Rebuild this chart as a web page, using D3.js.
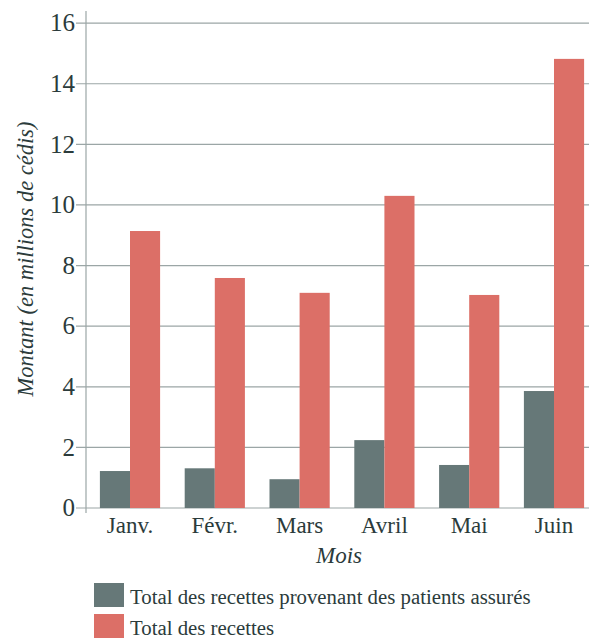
<!DOCTYPE html>
<html><head><meta charset="utf-8">
<script src="https://cdn.jsdelivr.net/npm/d3@7"></script>
<style>body{margin:0;background:#fff}svg{display:block}</style>
</head><body>
<svg id="c" width="589" height="638"></svg>
<script>
const months = ["Janv.", "Févr.", "Mars", "Avril", "Mai", "Juin"];
const seriesNames = ["Total des recettes provenant des patients assurés", "Total des recettes"];
const insured = [1.22, 1.31, 0.95, 2.24, 1.42, 3.86];
const total = [9.14, 7.59, 7.10, 10.30, 7.03, 14.82];
const yTicks = [0, 2, 4, 6, 8, 10, 12, 14, 16];
const colors = ["#667878", "#dc6f67"];

const font = "'Liberation Serif', 'DejaVu Serif', serif";
const textColor = "#2b3b3b";
const svg = d3.select("#c");

const y = d3.scaleLinear().domain([0, 16.4]).range([508, 11]);
const x = d3.scaleBand().domain(months).range([87.6, 596.4]).paddingInner(0.29).paddingOuter(0.145);
const xs = d3.scaleBand().domain([0, 1]).range([0, x.bandwidth()]);

// gridlines
svg.append("g").selectAll("line").data(yTicks).join("line")
  .attr("x1", 76).attr("x2", 589)
  .attr("y1", d => y(d)).attr("y2", d => y(d))
  .attr("stroke", "#9ba6a6").attr("stroke-width", 1.2);

// axis line
svg.append("line").attr("x1", 86).attr("x2", 86).attr("y1", 11).attr("y2", 513)
  .attr("stroke", "#9ba6a6").attr("stroke-width", 1.2);

// y tick labels
svg.append("g").selectAll("text").data(yTicks).join("text")
  .attr("x", 75).attr("y", d => y(d)).attr("dy", "0.33em")
  .attr("text-anchor", "end").attr("font-family", font).attr("font-size", 25)
  .attr("fill", textColor).text(d => d);

// bars
const data = months.map((m, i) => ({m, v: [insured[i], total[i]]}));
const g = svg.append("g").selectAll("g").data(data).join("g")
  .attr("transform", d => `translate(${x(d.m)},0)`);
g.selectAll("rect").data(d => d.v.map((v, k) => ({v, k}))).join("rect")
  .attr("x", d => xs(d.k)).attr("width", xs.bandwidth())
  .attr("y", d => y(d.v)).attr("height", d => y(0) - y(d.v))
  .attr("fill", d => colors[d.k]);

// x labels
svg.append("g").selectAll("text").data(months).join("text")
  .attr("x", d => x(d) + x.bandwidth() / 2).attr("y", 533)
  .attr("text-anchor", "middle").attr("font-family", font).attr("font-size", 23)
  .attr("fill", textColor).text(d => d);

// axis titles
svg.append("text").attr("x", 339).attr("y", 563).attr("text-anchor", "middle")
  .attr("font-family", font).attr("font-style", "italic").attr("font-size", 23)
  .attr("fill", textColor).text("Mois");
svg.append("text").attr("transform", "translate(33,259) rotate(-90)")
  .attr("text-anchor", "middle").attr("font-family", font).attr("font-style", "italic")
  .attr("font-size", 22.5).attr("fill", textColor).text("Montant (en millions de cédis)");

// legend
const lg = svg.append("g").selectAll("g").data(seriesNames).join("g")
  .attr("transform", (d, i) => `translate(94,${583 + i * 31})`);
lg.append("rect").attr("width", 30).attr("height", 24).attr("fill", (d, i) => colors[i]);
lg.append("text").attr("x", 36).attr("y", 21).attr("font-family", font).attr("font-size", 20.8)
  .attr("fill", textColor).text(d => d);
</script>
</body></html>
